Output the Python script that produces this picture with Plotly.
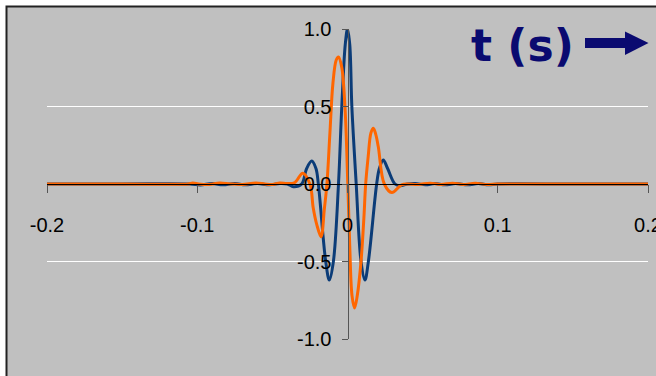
import plotly.graph_objects as go

# ---- data ----
t_blue = [-0.2, -0.15, -0.105, -0.098, -0.09, -0.083, -0.075, -0.068, -0.06, -0.052, -0.045,
          -0.04, -0.036, -0.0305, -0.0272, -0.0238, -0.021, -0.0194, -0.0145, -0.0121, -0.0094,
          -0.006, -0.0038, -0.0015, 0.0, 0.0015, 0.0029, 0.0058, 0.009, 0.0116, 0.0139, 0.0194,
          0.0212, 0.0238, 0.0267, 0.0316, 0.035, 0.04, 0.045, 0.052, 0.058, 0.065, 0.072, 0.08,
          0.087, 0.094, 0.1, 0.15, 0.2]
v_blue = [0.0, 0.0, 0.0, -0.006, 0.003, -0.005, 0.003, -0.005, 0.003, -0.005, 0.003,
          0.0, -0.018, 0.0, 0.1, 0.148, 0.1, 0.0, -0.5, -0.62, -0.5,
          0.0, 0.5, 0.9, 1.0, 0.9, 0.5, 0.0, -0.5, -0.62, -0.5, 0.0,
          0.1, 0.155, 0.1, 0.0, -0.012, 0.0, 0.003, -0.005, 0.003, -0.005, 0.003, -0.005,
          0.003, -0.005, 0.0, 0.0, 0.0]

t_orange = [-0.2, -0.15, -0.106, -0.103, -0.099, -0.092, -0.085, -0.078, -0.07, -0.061, -0.055,
            -0.05, -0.045, -0.04, -0.035, -0.0298, -0.025, -0.0228, -0.0205, -0.0176, -0.0154,
            -0.0137, -0.0117, -0.0097, -0.0075, -0.006, -0.0039, -0.0017, 0.0002, 0.0015, 0.003,
            0.0047, 0.0065, 0.009, 0.0109, 0.0121, 0.0138, 0.0156, 0.0172, 0.0188, 0.0205, 0.0245,
            0.0295, 0.036, 0.04, 0.047, 0.055, 0.062, 0.07, 0.077, 0.085, 0.093, 0.1, 0.15, 0.2]
v_orange = [0.0, 0.0, 0.0, 0.006, 0.0, -0.003, 0.006, 0.0, -0.003, 0.006, 0.0,
            -0.003, 0.006, 0.003, 0.01, 0.07, 0.0, -0.155, -0.26, -0.34, -0.16,
            0.0, 0.33, 0.65, 0.8, 0.82, 0.757, 0.5, 0.0, -0.4, -0.72,
            -0.8, -0.72, -0.5, -0.22, 0.0, 0.18, 0.33, 0.36, 0.32, 0.24, 0.0,
            -0.055, -0.005, 0.0, -0.003, 0.005, -0.003, 0.005, -0.003, 0.005, -0.003, 0.0, 0.0, 0.0]

x_ticks = [-0.2, -0.1, 0.0, 0.1, 0.2]
x_labels = ["-0.2", "-0.1", "0", "0.1", "0.2"]
y_ticks = [-1.0, -0.5, 0.0, 0.5, 1.0]
y_labels = ["-1.0", "-0.5", "0.0", "0.5", "1.0"]
title_text = "t (s)"

# ---- layout geometry (pixels) ----
WIDTH, HEIGHT = 656, 376
L, R, T, B = 47, 648, 29, 339
PW, PH = R - L, B - T


def px(x):
    return (x - L) / PW


def py(y):
    return (B - y) / PH


NAVY = "#0A0A70"
BLUE = "#0B3C78"
ORANGE = "#FF6600"
GRAY = "#C0C0C0"

fig = go.Figure()
fig.add_trace(go.Scatter(x=t_blue, y=v_blue, mode="lines",
                         line=dict(color=BLUE, width=3, shape="spline", smoothing=1.0),
                         hoverinfo="skip", showlegend=False))
fig.add_trace(go.Scatter(x=t_orange, y=v_orange, mode="lines",
                         line=dict(color=ORANGE, width=3, shape="spline", smoothing=1.0),
                         hoverinfo="skip", showlegend=False))

shapes = [
    # chart area background with border on top / left
    dict(type="rect", xref="paper", yref="paper", layer="below",
         x0=px(6.5), x1=px(700), y0=py(420), y1=py(6.5),
         fillcolor=GRAY, line=dict(color="#222222", width=2)),
    # arrow shaft
    dict(type="rect", xref="paper", yref="paper",
         x0=px(585), x1=px(627), y0=py(48), y1=py(38),
         fillcolor=NAVY, line=dict(width=0)),
    # arrow head
    dict(type="path", xref="paper", yref="paper",
         path=f"M {px(625)},{py(31.5)} L {px(648.5)},{py(43)} L {px(625)},{py(55)} Z",
         fillcolor=NAVY, line=dict(width=0)),
]

fig.update_layout(
    width=WIDTH, height=HEIGHT,
    margin=dict(l=L, r=WIDTH - R, t=T, b=HEIGHT - B, pad=0, autoexpand=False),
    paper_bgcolor="white",
    plot_bgcolor="rgba(0,0,0,0)",
    shapes=shapes,
    annotations=[dict(text=f"<b>{title_text}</b>", xref="paper", yref="paper",
                      x=px(576), y=py(45), xanchor="right", yanchor="middle",
                      showarrow=False,
                      font=dict(family="DejaVu Sans", size=44, color=NAVY))],
    xaxis=dict(range=[-0.2, 0.2], anchor="free", position=0.5, automargin=False,
               showline=True, linecolor="black", linewidth=1,
               ticks="outside", ticklen=8, tickcolor="#555555", tickwidth=1,
               tickvals=x_ticks, ticktext=x_labels,
               showgrid=False, zeroline=False,
               tickfont=dict(family="Arial, Liberation Sans", size=20, color="black"),
               ticklabelstandoff=15, ticklabeloverflow="allow"),
    yaxis=dict(range=[-1, 1], anchor="free", position=0.5, automargin=False,
               showline=True, linecolor="#555555", linewidth=1,
               ticks="outside", ticklen=6, tickcolor="#555555", tickwidth=1,
               tickvals=y_ticks, ticktext=y_labels,
               showgrid=True, gridcolor="white", gridwidth=1, zeroline=False,
               tickfont=dict(family="Arial, Liberation Sans", size=20, color="black"),
               ticklabelstandoff=6, ticklabeloverflow="allow"),
)

fig.write_html("out.html",
               config={"displayModeBar": False},
               post_script="document.body.style.margin='0px';document.body.style.overflow='hidden';")
